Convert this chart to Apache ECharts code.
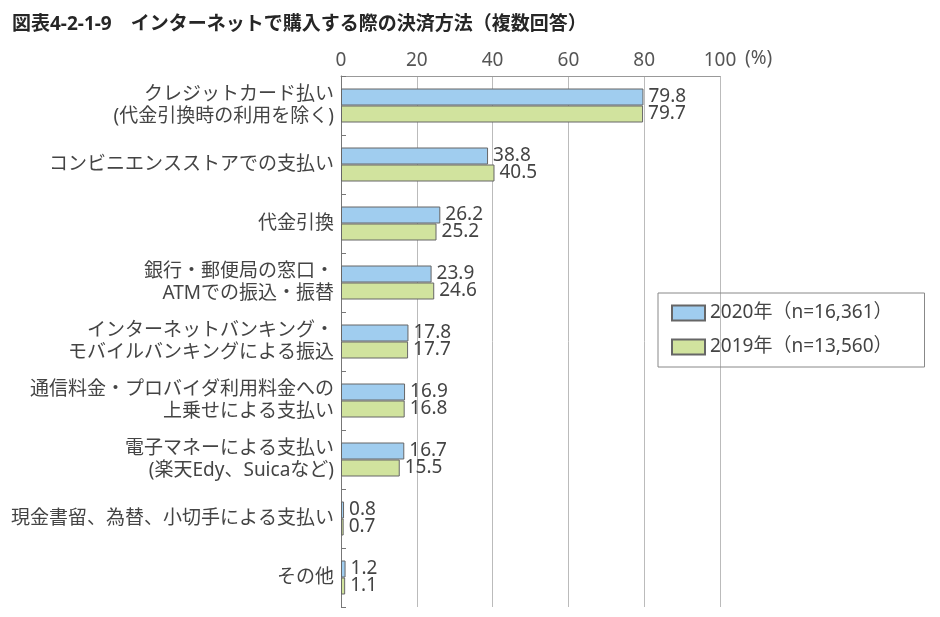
<!DOCTYPE html>
<html>
<head>
<meta charset="utf-8">
<script src="https://cdn.jsdelivr.net/npm/echarts@6/dist/echarts.min.js"></script>
<style>
html,body{margin:0;padding:0;background:#fff;}
#chart{width:940px;height:617px;}
</style>
</head>
<body>
<div id="chart"></div>
<script>
const titleText = '図表4-2-1-9　インターネットで購入する際の決済方法（複数回答）';
const categories = [
  'クレジットカード払い\n(代金引換時の利用を除く)',
  'コンビニエンスストアでの支払い',
  '代金引換',
  '銀行・郵便局の窓口・\nATMでの振込・振替',
  'インターネットバンキング・\nモバイルバンキングによる振込',
  '通信料金・プロバイダ利用料金への\n上乗せによる支払い',
  '電子マネーによる支払い\n(楽天Edy、Suicaなど)',
  '現金書留、為替、小切手による支払い',
  'その他'
];
const seriesNames = ['2020年（n=16,361）', '2019年（n=13,560）'];
const values2020 = [79.8, 38.8, 26.2, 23.9, 17.8, 16.9, 16.7, 0.8, 1.2];
const values2019 = [79.7, 40.5, 25.2, 24.6, 17.7, 16.8, 15.5, 0.7, 1.1];
const axisMin = 0, axisMax = 100, axisInterval = 20;
const unitLabel = '(%)';

const FONT = '"Noto Sans", "Noto Sans CJK JP", sans-serif';
const chart = echarts.init(document.getElementById('chart'));

const barLabel = {
  show: true,
  position: 'right',
  distance: 5,
  fontFamily: FONT,
  fontSize: 19,
  color: '#444',
  formatter: p => p.value.toFixed(1)
};

chart.setOption({
  animation: false,
  backgroundColor: '#fff',
  title: {
    text: titleText,
    left: 7,
    top: 10,
    textStyle: { fontFamily: FONT, fontSize: 19, fontWeight: 'bold', color: '#262626' }
  },
  graphic: [{
    type: 'text',
    left: 745,
    top: 49,
    style: { text: unitLabel, font: '19px ' + FONT, fill: '#555' }
  }],
  legend: {
    orient: 'vertical',
    left: 658,
    top: 293,
    padding: [10, 32, 10, 13],
    borderColor: '#888',
    borderWidth: 1,
    itemWidth: 33,
    itemHeight: 15,
    itemGap: 14,
    icon: 'rect',
    textStyle: { fontFamily: FONT, fontSize: 19, color: '#444', lineHeight: 20 },
    data: seriesNames
  },
  grid: { left: 341, right: 220, top: 76, bottom: 10, containLabel: false },
  xAxis: {
    type: 'value',
    position: 'top',
    min: axisMin,
    max: axisMax,
    interval: axisInterval,
    axisLine: { show: true, lineStyle: { color: '#999', width: 1 } },
    axisTick: { show: false },
    axisLabel: { fontFamily: FONT, fontSize: 19, color: '#555', margin: 6 },
    splitLine: { show: true, lineStyle: { color: '#bbb', width: 1 } }
  },
  yAxis: {
    type: 'category',
    inverse: true,
    data: categories,
    axisLine: { show: true, lineStyle: { color: '#777', width: 1 } },
    axisTick: { show: true, inside: true, length: 5, lineStyle: { color: '#777' } },
    axisLabel: { fontFamily: FONT, fontSize: 19, color: '#444', lineHeight: 22, margin: 7 }
  },
  series: [
    {
      name: seriesNames[0],
      type: 'bar',
      data: values2020,
      barWidth: 17,
      barGap: '0%',
      itemStyle: { color: '#a0cdef', borderColor: '#666', borderWidth: 1 },
      label: barLabel
    },
    {
      name: seriesNames[1],
      type: 'bar',
      data: values2019,
      barWidth: 17,
      barGap: '0%',
      itemStyle: { color: '#d1e39e', borderColor: '#666', borderWidth: 1 },
      label: barLabel
    }
  ]
});
</script>
</body>
</html>
